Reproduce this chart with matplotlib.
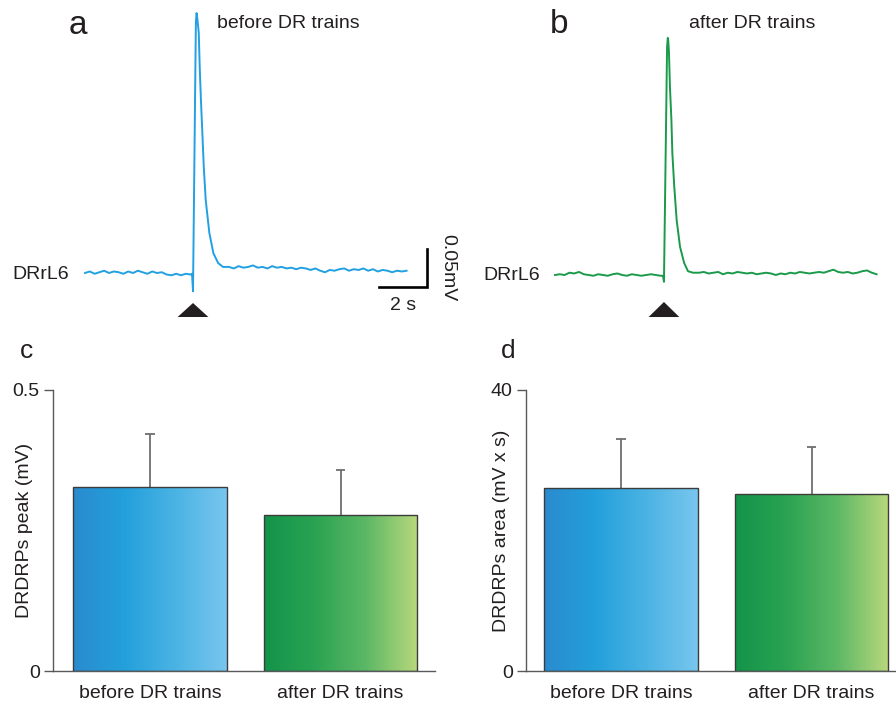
import numpy as np
import matplotlib
matplotlib.use('Agg')
import matplotlib.pyplot as plt
from matplotlib.colors import LinearSegmentedColormap
from matplotlib.patches import Polygon

plt.rcParams['font.family'] = ['Liberation Sans', 'DejaVu Sans']

W, H = 896, 706
TXT = '#231f20'

# ---- example traces (uV, relative to resting baseline) ----
dt = 0.2
stim_a = 4.50
pre_a = [0, 2, -1, 1, 3, 0, 2, 1, -1, 2, 0, 3, 1, -1, 2, 0, 1, -2, -3, -1, -3, -1, -2]
evt_t_a = [4.46, 4.50, 4.62, 4.65, 4.68, 4.74, 4.78, 4.83, 4.89, 4.95, 5.03, 5.18, 5.35, 5.55, 5.75]
evt_v_a = [-1, -24, 330, 342, 335, 316, 271, 228, 184, 139, 96, 53, 26, 13, 8]
post_a = [8, 6, 9, 7, 8, 10, 7, 8, 6, 9, 7, 8, 6, 7, 5, 7, 6, 4, 6, 3,
          1, 4, 3, 5, 6, 3, 5, 4, 6, 3, 5, 2, 4, 3, 1, 3, 2, 3]

stim_b = 4.54
pre_b = [0, 1, 0, 3, 2, 4, 1, 0, -1, 1, 0, -1, 1, 2, 0, -1, 1, 0, -1, 0, 1, 0, -1]
evt_t_b = [4.50, 4.54, 4.67, 4.70, 4.72, 4.75, 4.79, 4.85, 4.89, 4.97, 5.07, 5.21, 5.38, 5.54, 5.75]
evt_v_b = [-1, -9, 300, 312, 308, 292, 247, 204, 160, 116, 72, 37, 16, 5, 3]
post_b = [3, 4, 2, 3, 4, 1, 3, 2, 4, 3, 2, 3, 1, 2, 3, 2, 0, 2, 1, 3,
          2, 4, 3, 2, 3, 4, 3, 5, 7, 4, 3, 4, 2, 3, 5, 6, 3, 1]

# ---- summary data (mean + SEM) ----
groups = ['before DR trains', 'after DR trains']
peak_mean = [0.327, 0.278]
peak_sem = [0.095, 0.080]
area_mean = [26.05, 25.2]
area_sem = [6.95, 6.7]

blue_cmap = LinearSegmentedColormap.from_list('bl', ['#2a8bcf', '#23a0db', '#4bb3e4', '#78c6ee'])
green_cmap = LinearSegmentedColormap.from_list('gr', ['#13944a', '#2aa352', '#5db866', '#b9d87c'])
blue_line = '#22a0e2'
green_line = '#1a9a4a'


def build_trace(pre, evt_t, evt_v, post):
    t_pre = dt * np.arange(len(pre))
    t_post = 6.0 + dt * np.arange(len(post))
    t = np.concatenate([t_pre, evt_t, t_post])
    v = np.concatenate([pre, evt_v, post])
    return t, v


def px_axes(x0, y0, x1, y1):
    # axes from pixel box (top-left origin)
    return fig.add_axes([x0 / W, 1 - y1 / H, (x1 - x0) / W, (y1 - y0) / H])


def ftext(x, y, s, **kw):
    fig.text(x / W, 1 - y / H, s, color=TXT, **kw)


fig = plt.figure(figsize=(W / 100, H / 100), dpi=100)

# ---- trace panels ----
ax_a = px_axes(60, 0, 460, 330)
ax_b = px_axes(530, 0, 896, 330)

t, v = build_trace(pre_a, evt_t_a, evt_v_a, post_a)
ax_a.plot(t, v, color=blue_line, lw=1.4, solid_joinstyle='round')
ax_a.set_xlim(-25 / 24, 375 / 24)
ax_a.set_ylim(-57 / 0.76, 273 / 0.76)

t, v = build_trace(pre_b, evt_t_b, evt_v_b, post_b)
ax_b.plot(t, v, color=green_line, lw=1.4, solid_joinstyle='round')
ax_b.set_xlim(-25 / 24, 341 / 24)
ax_b.set_ylim(-55 / 0.76, 275 / 0.76)

# stimulus markers
for ax, st, top, bot in [(ax_a, stim_a, -39.5, -57.9), (ax_b, stim_b, -35.5, -55.3)]:
    ax.add_patch(Polygon([[st - 0.64, bot], [st + 0.64, bot], [st, top]],
                         closed=True, color=TXT, lw=0))
    ax.axis('off')

# scale bars: 2 s, 0.05 mV
sx, sy = 14.25, -18.4
ax_a.plot([sx - 2, sx, sx], [sy, sy, sy + 50], color='black', lw=1.9,
          solid_joinstyle='miter', clip_on=False)

ftext(403, 305, '2 s', fontsize=14, ha='center', va='center')
ftext(448, 268, '0.05mV', fontsize=14, ha='center', va='center', rotation=-90)
ftext(217, 28, 'before DR trains', fontsize=14, ha='left', va='baseline')
ftext(689, 28, 'after DR trains', fontsize=14, ha='left', va='baseline')
ftext(12, 279, 'DRrL6', fontsize=14, ha='left', va='baseline')
ftext(483, 280, 'DRrL6', fontsize=14, ha='left', va='baseline')
ftext(78, 34, 'a', fontsize=24, ha='center', va='baseline')
ftext(559, 33, 'b', fontsize=24, ha='center', va='baseline')
ftext(26, 358, 'c', fontsize=19, ha='center', va='baseline')
ftext(508, 358, 'd', fontsize=19, ha='center', va='baseline')


# ---- bar panels ----
def gradient_bars(ax, means, sems, ymax, yticklabels, ylabel, xlim, label_x):
    x = np.arange(len(means))
    means = np.asarray(means)
    tops = means + np.asarray(sems)
    width = 0.805
    cap = 0.025
    # upper-only error bars
    ax.vlines(x, means, tops, color='#6d6e71', lw=1.3, zorder=1)
    ax.hlines(tops, x - cap, x + cap, color='#6d6e71', lw=1.3, zorder=1)
    bars = ax.bar(x, means, width, facecolor='none', edgecolor='#3c3c3c', lw=1.0, zorder=3)
    grad = np.linspace(0, 1, 256).reshape(1, -1)
    for bar, cmap in zip(bars, [blue_cmap, green_cmap]):
        x0, w, h = bar.get_x(), bar.get_width(), bar.get_height()
        im = ax.imshow(grad, cmap=cmap, extent=[x0, x0 + w, 0, h], aspect='auto',
                       interpolation='bicubic', zorder=2)
        im.set_clip_path(bar)
    ax.set_xlim(*xlim)
    ax.set_ylim(0, ymax)
    ax.set_xticks(x)
    ax.set_xticklabels(groups, fontsize=14, color=TXT)
    ax.tick_params(axis='x', length=0, pad=10)
    ax.set_yticks([0, ymax])
    ax.set_yticklabels(yticklabels, fontsize=14, color=TXT)
    ax.tick_params(axis='y', length=6.5, width=1, color='#58595b', pad=3)
    for s in ['top', 'right']:
        ax.spines[s].set_visible(False)
    for s in ['left', 'bottom']:
        ax.spines[s].set_color('#58595b')
        ax.spines[s].set_linewidth(1)
    ax.set_ylabel(ylabel, fontsize=14, color=TXT)
    ax.yaxis.set_label_coords(label_x, 0.5)


ax_c = px_axes(53, 390, 435, 671)
gradient_bars(ax_c, peak_mean, peak_sem, 0.5, ['0', '0.5'], 'DRDRPs peak (mV)',
              (-97 / 190.5, 1 + 94.5 / 190.5), -0.052)

ax_d = px_axes(526, 390, 896, 671)
gradient_bars(ax_d, area_mean, area_sem, 40, ['0', '40'], 'DRDRPs area (mV x s)',
              (-95 / 190.5, 1 + 84.5 / 190.5), -0.043)

fig.savefig('out.png', dpi=100)
